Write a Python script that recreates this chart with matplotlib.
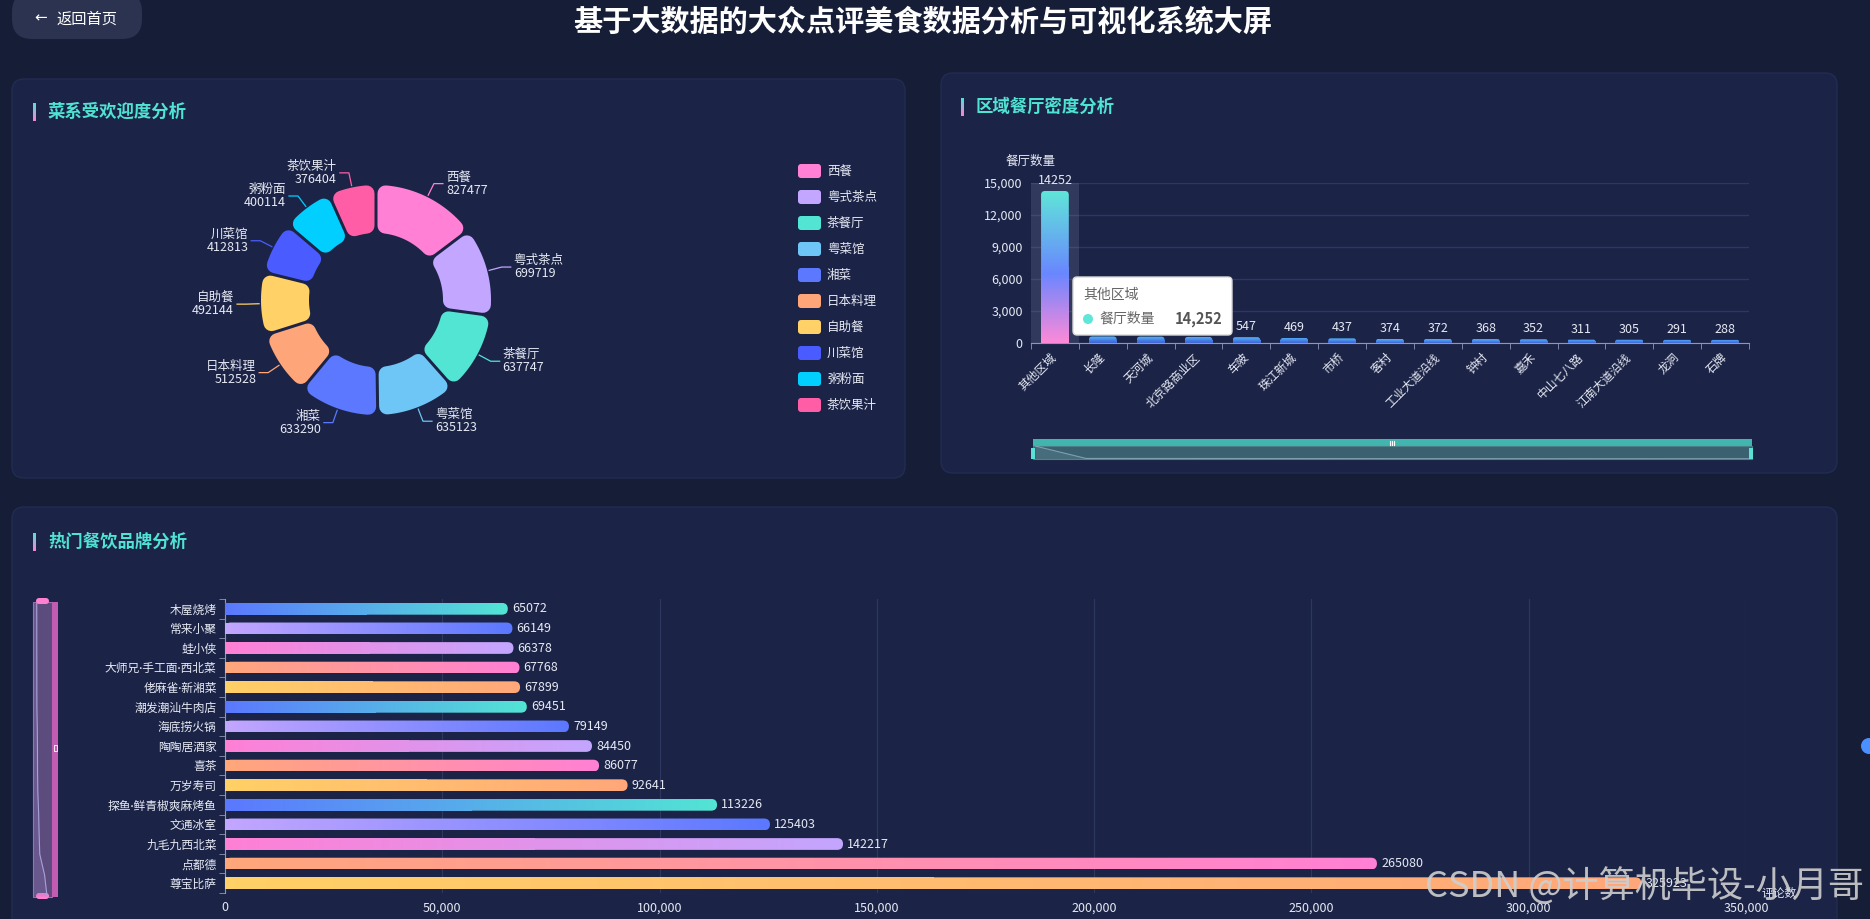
import matplotlib
matplotlib.use("Agg")
import matplotlib.pyplot as plt
import numpy as np
from matplotlib.patches import FancyBboxPatch, Rectangle, Polygon, Circle
from matplotlib.colors import LinearSegmentedColormap
from matplotlib.ticker import FuncFormatter

plt.rcParams['font.family'] = ['Noto Sans CJK SC', 'DejaVu Sans']

W, H, DPI = 1870, 919, 100

# ---- data ----
cuisine_names = ['西餐', '粤式茶点', '茶餐厅', '粤菜馆', '湘菜', '日本料理', '自助餐', '川菜馆', '粥粉面', '茶饮果汁']
cuisine_values = [827477, 699719, 637747, 635123, 633290, 512528, 492144, 412813, 400114, 376404]
cuisine_colors = ['#ff80d5', '#c3a6ff', '#52e5d4', '#6ec6f7', '#5b78ff',
                  '#ffa57a', '#ffd166', '#4a5cff', '#00cfff', '#ff5ea6']

area_names = ['其他区域', '长隆', '天河城', '北京路商业区', '车陂', '珠江新城', '市桥', '客村',
              '工业大道沿线', '钟村', '嘉禾', '中山七八路', '江南大道沿线', '龙洞', '石牌']
area_counts = [14252, 612, 596, 571, 547, 469, 437, 374, 372, 368, 352, 311, 305, 291, 288]

# bottom -> top
brand_names = ['尊宝比萨', '点都德', '九毛九西北菜', '文通冰室', '探鱼·鲜青椒爽麻烤鱼', '万岁寿司', '喜茶',
               '陶陶居酒家', '海底捞火锅', '潮发潮汕牛肉店', '佬麻雀·新湘菜', '大师兄·手工面·西北菜',
               '蛙小侠', '常来小聚', '木屋烧烤']
brand_reviews = [325923, 265080, 142217, 125403, 113226, 92641, 86077, 84450, 79149,
                 69451, 67899, 67768, 66378, 66149, 65072]
brand_gradients = [('#ffd166', '#ffa77a'), ('#ffa77a', '#ff80d5'), ('#ff80d5', '#c3a6ff'),
                   ('#c3a6ff', '#5b78ff'), ('#5b78ff', '#52e5d4')]

BG = '#161d36'
PANEL = '#1b2446'
TITLE_C = '#4fe3d3'
TXT = '#e6e9f4'
GRID = '#2d3860'
AXIS = '#8e97b5'

fig = plt.figure(figsize=(W / DPI, H / DPI), dpi=DPI, facecolor=BG)


def px_axes(x0, y0, x1, y1):
    ax = fig.add_axes([x0 / W, 1 - y1 / H, (x1 - x0) / W, (y1 - y0) / H])
    ax.set_facecolor('none')
    return ax


def pixel_canvas(ax):
    ax.set_xlim(0, W)
    ax.set_ylim(H, 0)
    ax.axis('off')


def grad_cmap(cols):
    return LinearSegmentedColormap.from_list('g', cols)


def gradient_bar(ax, x, y, w, h, cmap, horizontal, r_px, ux, uy):
    r_px = min(r_px, abs(w) / ux / 2, abs(h) / uy / 2)
    rounded = FancyBboxPatch((x, y), w, h, boxstyle=f'round,pad=0,rounding_size={r_px * ux}',
                             mutation_aspect=uy / ux, fc='none', ec='none')
    if horizontal:
        flat = Rectangle((x, y), w / 2, h, fc='none', ec='none')
        img = np.linspace(0, 1, 256).reshape(1, -1)
    else:
        flat = Rectangle((x, y), w, h / 2, fc='none', ec='none')
        img = np.linspace(0, 1, 256).reshape(-1, 1)
    for clip in (rounded, flat):
        ax.add_patch(clip)
        im = ax.imshow(img, cmap=cmap, extent=(x, x + w, y, y + h), origin='lower',
                       aspect='auto', interpolation='bilinear', zorder=3)
        im.set_clip_path(clip)


# ---- background, panels, titles ----
bg = px_axes(0, 0, W, H)
pixel_canvas(bg)

for (x0, y0, x1, y1) in [(12, 79, 905, 478), (941, 73, 1837, 473), (12, 507, 1837, 945)]:
    bg.add_patch(FancyBboxPatch((x0, y0), x1 - x0, y1 - y0, boxstyle='round,pad=0,rounding_size=12',
                                fc=PANEL, ec='#222c52', lw=1))

bar_cmap = grad_cmap(['#4fe3d3', '#ff80d5'])


def panel_title(x, y, text):
    bg.imshow(np.linspace(0, 1, 50).reshape(-1, 1), cmap=bar_cmap, extent=(x - 15, x - 12, y + 9, y - 9),
              aspect='auto', zorder=2)
    bg.text(x, y, text, fontsize=12.5, fontweight='bold', color=TITLE_C, va='center', ha='left')


panel_title(48, 112, '菜系受欢迎度分析')
panel_title(976, 107, '区域餐厅密度分析')
panel_title(48, 542, '热门餐饮品牌分析')
bg.set_xlim(0, W)
bg.set_ylim(H, 0)

bg.text(923, 21, '基于大数据的大众点评美食数据分析与可视化系统大屏', fontsize=21, fontweight='bold',
        color='white', ha='center', va='center')

# back button
bg.add_patch(FancyBboxPatch((12, -8), 130, 47, boxstyle='round,pad=0,rounding_size=20',
                            fc='#2b3350', ec='none'))
bg.text(41, 18, '←', fontsize=11, color='white', ha='center', va='center', family=['DejaVu Sans'])
bg.text(57, 19, '返回首页', fontsize=11, color='white', ha='left', va='center')

# ---- donut ----
cx, cy, R_OUT, R_IN = 376, 300, 115, 67
pax = px_axes(cx - 170, cy - 170, cx + 170, cy + 170)
wedges, _ = pax.pie(cuisine_values, colors=cuisine_colors, startangle=90, counterclock=False, radius=R_OUT)
corner, gap = 8, 3
lw_pt = 2 * corner * 72 / DPI
d = corner + gap / 2
ro, ri = R_OUT - corner, R_IN + corner
for w, name, val, col in zip(wedges, cuisine_names, cuisine_values, cuisine_colors):
    w.set_visible(False)
    t1, t2 = np.radians(w.theta1), np.radians(w.theta2)
    outer = np.linspace(t1 + np.arcsin(d / ro), t2 - np.arcsin(d / ro), 80)
    inner = np.linspace(t2 - np.arcsin(d / ri), t1 + np.arcsin(d / ri), 80)
    pts = np.concatenate([np.c_[ro * np.cos(outer), ro * np.sin(outer)],
                          np.c_[ri * np.cos(inner), ri * np.sin(inner)]])
    pax.add_patch(Polygon(pts, closed=True, fc=col, ec=col, lw=lw_pt, joinstyle='round'))
    am = (t1 + t2) / 2
    side = 1 if np.cos(am) >= 0 else -1
    u = np.array([np.cos(am), np.sin(am)])
    p0 = (R_OUT + 2) * u
    p1 = (R_OUT + 15) * u
    p2 = p1 + np.array([side * 9, 0])
    pax.plot([p0[0], p1[0], p2[0]], [p0[1], p1[1], p2[1]], color=col, lw=0.9, clip_on=False)
    pax.text(p2[0] + side * 3, p2[1], f'{name}\n{val}', ha='left' if side > 0 else 'right',
             va='center', fontsize=9, color=TXT, linespacing=1.0)
pax.set_xlim(-170, 170)
pax.set_ylim(-170, 170)
pax.set_aspect('equal')
pax.axis('off')

# legend
for i, (name, col) in enumerate(zip(cuisine_names, cuisine_colors)):
    yy = 171 + i * 26
    bg.add_patch(FancyBboxPatch((798, yy - 7), 23, 14, boxstyle='round,pad=0,rounding_size=3', fc=col, ec='none'))
    bg.text(827, yy, name, fontsize=9, color=TXT, va='center')

# ---- area bar chart ----
bax = px_axes(1031, 183, 1749, 343)
xs = np.arange(len(area_names))
bars = bax.bar(xs, area_counts, width=0.58, color='none')
ux, uy = 15 / 718, 15000 / 160
hot = grad_cmap([(0, '#ff8ad8'), (0.45, '#6a86ff'), (1, '#5fe7d8')])
cool = grad_cmap(['#3f63d8', '#52b6f8'])
bax.axvspan(-0.5, 0.5, color='#8a96b8', alpha=0.2, zorder=1, lw=0)
for i, b in enumerate(bars):
    gradient_bar(bax, b.get_x(), 0, b.get_width(), b.get_height(), hot if i == 0 else cool,
                 False, 4, ux, uy)
    bax.annotate(str(area_counts[i]), (xs[i], area_counts[i]), xytext=(0, 3), textcoords='offset points',
                 ha='center', va='bottom', fontsize=9, color=TXT, zorder=5)
bax.set_xlim(-0.5, len(area_names) - 0.5)
bax.set_ylim(0, 15000)
bax.set_yticks(range(0, 15001, 3000))
bax.yaxis.set_major_formatter(FuncFormatter(lambda v, p: f'{int(v):,}'))
bax.grid(axis='y', color=GRID, lw=1)
bax.set_axisbelow(True)
for s in ['left', 'right', 'top']:
    bax.spines[s].set_visible(False)
bax.spines['bottom'].set_color(AXIS)
bax.set_xticks(xs)
bax.set_xticklabels(area_names, rotation=45, ha='right', va='center', rotation_mode='anchor')
bax.set_xticks(np.arange(-0.5, len(area_names)), minor=True)
bax.tick_params(axis='x', which='major', length=0, pad=9, labelsize=8.5, labelcolor=TXT)
bax.tick_params(axis='x', which='minor', length=4, color=AXIS)
bax.tick_params(axis='y', length=0, pad=6, labelsize=9, labelcolor=TXT)
bax.text(0, 1.1375, '餐厅数量', transform=bax.transAxes, ha='center', va='center', fontsize=9, color=TXT)

# area slider
bg.add_patch(Rectangle((1033, 439), 719, 7, fc='#41b5ae', ec='none'))
bg.add_patch(Rectangle((1033, 446), 719, 13, fc='#3b6170', ec='#4d7f88', lw=0.8))
for hx in (1031, 1749):
    bg.add_patch(Rectangle((hx, 448), 4, 11, fc='#5ce0d6', ec='none'))
for k in (-2, 0, 2):
    bg.plot([1392 + k, 1392 + k], [440.5, 444.5], color='white', lw=0.8)
sax = px_axes(1035, 446, 1749, 459)
sax.plot(xs, area_counts, color='#8fb0c0', lw=0.8, alpha=0.8)
sax.fill_between(xs, area_counts, color='#8fb0c0', alpha=0.15, lw=0)
sax.set_xlim(0, len(area_names) - 1)
sax.set_ylim(0, max(area_counts))
sax.axis('off')

# ---- brand horizontal bars ----
hax = px_axes(225, 599, 1746, 893)
ys = np.arange(len(brand_names))
hbars = hax.barh(ys, brand_reviews, height=0.6, color='none')
ux, uy = 350000 / 1521, len(brand_names) / 294
for i, b in enumerate(hbars):
    gradient_bar(hax, 0, b.get_y(), b.get_width(), b.get_height(), grad_cmap(brand_gradients[i % 5]),
                 True, 6, ux, uy)
    hax.annotate(str(brand_reviews[i]), (brand_reviews[i], ys[i]), xytext=(3, 0), textcoords='offset points',
                 ha='left', va='center', fontsize=9, color=TXT, zorder=5)
hax.set_xlim(0, 350000)
hax.set_ylim(-0.5, len(brand_names) - 0.5)
hax.set_xticks(range(0, 350001, 50000))
hax.xaxis.set_major_formatter(FuncFormatter(lambda v, p: f'{int(v):,}'))
hax.grid(axis='x', color=GRID, lw=0.8)
hax.set_axisbelow(True)
for s in ['right', 'top', 'bottom']:
    hax.spines[s].set_visible(False)
hax.spines['left'].set_color(AXIS)
hax.set_yticks(ys)
hax.set_yticklabels(brand_names, family=['Lato', 'Noto Sans CJK SC'])
hax.set_yticks(np.arange(-0.5, len(brand_names)), minor=True)
hax.tick_params(axis='y', which='major', length=0, pad=6, labelsize=8.5, labelcolor=TXT)
hax.tick_params(axis='y', which='minor', length=4, color=AXIS)
hax.tick_params(axis='x', length=0, pad=6, labelsize=9, labelcolor=TXT)
hax.annotate('评论数', xy=(1, 0), xycoords='axes fraction', xytext=(11, 0), textcoords='offset points',
             ha='left', va='center', fontsize=8.5, color=TXT)

# brand slider (vertical)
bg.add_patch(Rectangle((33, 602), 19, 295, fc='#5c4b7d', ec='#8c76b8', lw=0.8))
bg.add_patch(Rectangle((52, 602), 6, 295, fc='#c25cb2', ec='none'))
for hy in (601, 896):
    bg.add_patch(FancyBboxPatch((36, hy - 3), 13, 6, boxstyle='round,pad=0,rounding_size=3',
                                fc='#ff7fd0', ec='none'))
bg.add_patch(Rectangle((54, 745), 3, 6, fc='none', ec='white', lw=0.6))
vax = px_axes(33, 603, 52, 896)
vmax = max(brand_reviews)
vax.plot(brand_reviews, ys, color='#a9a0d8', lw=0.8)
vax.fill_betweenx(ys, -0.09 * vmax, brand_reviews, color='#8c80c0', alpha=0.25, lw=0)
vax.set_xlim(-0.09 * vmax, 1.39 * vmax)
vax.set_ylim(0, len(brand_names) - 1)
vax.axis('off')

# ---- overlay: tooltip + watermark ----
ov = px_axes(0, 0, W, H)
pixel_canvas(ov)
ov.add_patch(FancyBboxPatch((1073, 277), 159, 58, boxstyle='round,pad=0,rounding_size=4',
                            fc='white', ec='#d8d8d8', lw=1))
ov.text(1083, 295, area_names[0], fontsize=10, color='#666666', va='center')
ov.add_patch(Circle((1088, 319), 5, fc='#5ee6d8', ec='none'))
ov.text(1099, 319, '餐厅数量', fontsize=10, color='#666666', va='center')
ov.text(1223, 319, f'{area_counts[0]:,}', fontsize=10.5, fontweight='bold', color='#555555',
        va='center', ha='right')
ov.add_patch(Circle((1869, 746), 8, fc='#4a90ff', ec='none'))
ov.text(1425, 886, 'CSDN @计算机毕设-小月哥', fontsize=26, color='#cfcfcf', alpha=0.9,
        va='center', ha='left')

fig.savefig('out.png', dpi=DPI, facecolor=BG)
